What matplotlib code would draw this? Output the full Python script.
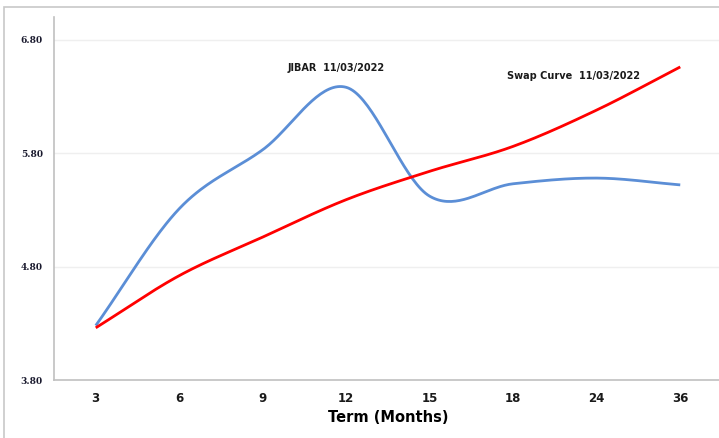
import numpy as np
import matplotlib
matplotlib.use("Agg")
import matplotlib.pyplot as plt
from matplotlib.patches import Rectangle

terms = ["3", "6", "9", "12", "15", "18", "24", "36"]
jibar = [4.28, 5.31, 5.83, 6.38, 5.42, 5.53, 5.58, 5.52]
swap = [4.26, 4.72, 5.06, 5.39, 5.64, 5.86, 6.18, 6.56]
yticks = [3.80, 4.80, 5.80, 6.80]


def smooth(xs, ys, n=40):
    # Catmull-Rom style bezier smoothing, like a spreadsheet "smoothed line"
    xs = np.asarray(xs, float)
    ys = np.asarray(ys, float)
    px = np.concatenate([[2 * xs[0] - xs[1]], xs, [2 * xs[-1] - xs[-2]]])
    py = np.concatenate([[2 * ys[0] - ys[1]], ys, [2 * ys[-1] - ys[-2]]])
    out_x, out_y = [], []
    t = np.linspace(0, 1, n)
    for i in range(1, len(px) - 2):
        p0 = np.array([px[i], py[i]])
        p3 = np.array([px[i + 1], py[i + 1]])
        c1 = p0 + (np.array([px[i + 1], py[i + 1]]) - np.array([px[i - 1], py[i - 1]])) / 6
        c2 = p3 - (np.array([px[i + 2], py[i + 2]]) - np.array([px[i], py[i]])) / 6
        bx = (1 - t) ** 3 * p0[0] + 3 * (1 - t) ** 2 * t * c1[0] + 3 * (1 - t) * t ** 2 * c2[0] + t ** 3 * p3[0]
        by = (1 - t) ** 3 * p0[1] + 3 * (1 - t) ** 2 * t * c1[1] + 3 * (1 - t) * t ** 2 * c2[1] + t ** 3 * p3[1]
        out_x.extend(bx)
        out_y.extend(by)
    return np.array(out_x), np.array(out_y)


fig = plt.figure(figsize=(7.19, 4.38), dpi=100)
fig.patches.append(Rectangle((4 / 719, -0.1), 1.2, 0.1 + (438 - 7) / 438,
                             transform=fig.transFigure, fill=False,
                             edgecolor="#c8c8c8", linewidth=1.2))

ax = fig.add_axes([54 / 719, 58 / 438, 668 / 719, 363 / 438])
x = np.arange(len(terms))

bx, by = smooth(x, jibar)
ax.plot(bx, by, color="#5b8ed6", linewidth=2.0, solid_capstyle="butt")
rx, ry = smooth(x, swap)
ax.plot(rx, ry, color="#ff0000", linewidth=2.0, solid_capstyle="butt")

ax.set_xlim(-0.5, 7.5)
ax.set_ylim(3.8, 7.0)
ax.set_xticks(x)
ax.set_xticklabels(terms, fontsize=8.5, fontweight="bold", color="#1a1a1a")
ax.set_yticks(yticks)
ax.set_yticklabels([f"{v:.2f}" for v in yticks], fontsize=6.5,
                   fontweight="bold", family="DejaVu Serif", color="#1a1a2e")
ax.tick_params(length=0)
ax.tick_params(axis="x", pad=9)
ax.tick_params(axis="y", pad=8)

for s in ["top", "right"]:
    ax.spines[s].set_visible(False)
for s in ["left", "bottom"]:
    ax.spines[s].set_color("#c0c0c0")
    ax.spines[s].set_linewidth(1.2)

for v in yticks[1:]:
    ax.axhline(v, color="#efefef", linewidth=1.0, zorder=0)

ax.set_xlabel("Term (Months)", fontsize=10.5, fontweight="bold", labelpad=3)

ax.text(2.88, 6.55, "JIBAR  11/03/2022", fontsize=7, fontweight="bold",
        ha="center", va="center", color="#1a1a1a")
ax.text(5.72, 6.48, "Swap Curve  11/03/2022", fontsize=7, fontweight="bold",
        ha="center", va="center", color="#1a1a1a")

fig.savefig("out.png", dpi=100)
